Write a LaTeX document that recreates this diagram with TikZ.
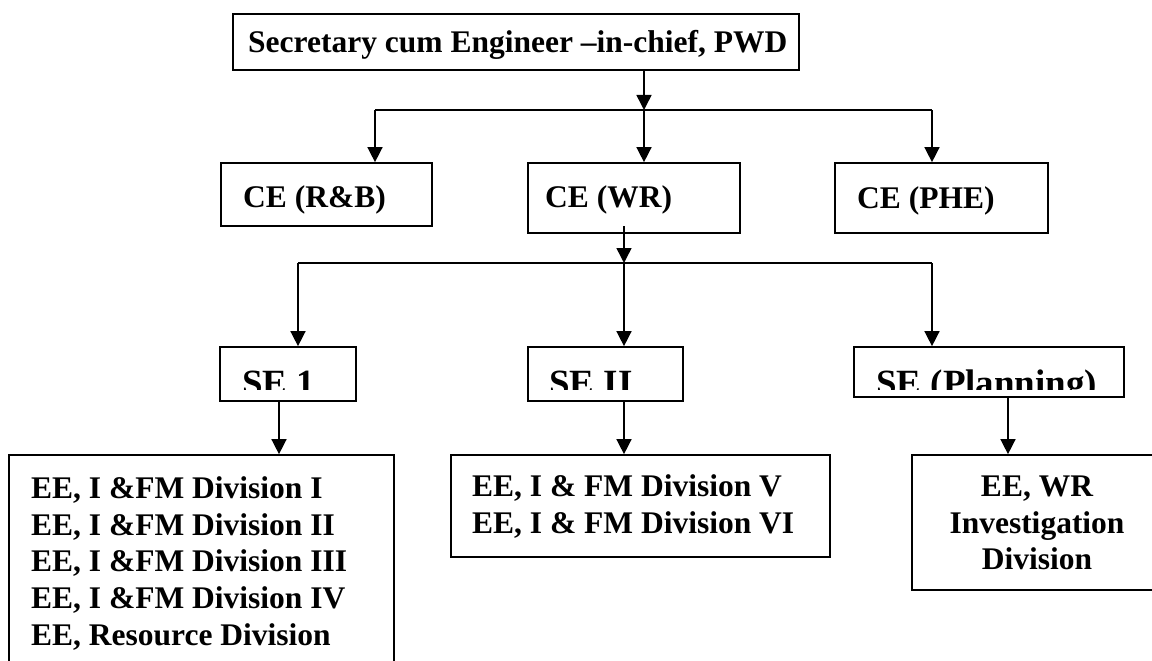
\documentclass[tikz,border=0pt]{standalone}
\usepackage{fontspec}
\setmainfont{Liberation Serif}
\usetikzlibrary{
    arrows.meta,
    positioning
}

\tikzset{
    box/.style={draw, line width=1.7pt, inner sep=0pt},
    lbl/.style={anchor=base west, inner sep=0pt,
        font=\fontsize{31.5}{36.75}\selectfont\bfseries},
    selbl/.style={lbl, font=\fontsize{37}{40}\selectfont\bfseries},
    bus/.style={line width=1.5pt},
    arr/.style={bus, -{Triangle[width=15pt,length=15pt]}}
}

\begin{document}
\begin{tikzpicture}[x=1pt, y=-1pt]
    \clip (0,0) rectangle (1152,661);

    % boxes
    \node[box, minimum width=566pt, minimum height=56pt] (sec) at (516,42) {};
    \node[box, minimum width=211pt, minimum height=63pt] (crb) at (326.5,194.5) {};
    \node[box, minimum width=212pt, minimum height=70pt] (cwr) at (634,198) {};
    \node[box, minimum width=213pt, minimum height=70pt] (cphe) at (941.5,198) {};
    \node[box, minimum width=136pt, minimum height=54pt] (se1) at (288,374) {};
    \node[box, minimum width=155pt, minimum height=54pt] (se2) at (605.5,374) {};
    \node[box, minimum width=270pt, minimum height=50pt] (sep) at (989,372) {};
    \node[box, minimum width=385pt, minimum height=260pt] (ee1) at (201.5,585) {};
    \node[box, minimum width=379pt, minimum height=102pt] (ee2) at (640.5,506) {};
    \node[box, minimum width=253pt, minimum height=135pt] (ee3) at (1038.5,522.5) {};

    % texts
    \node[lbl] (secT) at (248,53) {Secretary cum Engineer –in-chief, PWD};
    \node[lbl] (crbT) at (243,207) {CE (R\&B)};
    \node[lbl] (cwrT) at (545,207) {CE (WR)};
    \node[lbl] (cpheT) at (857,208) {CE (PHE)};
    \begin{scope}
        \clip (220,347) rectangle (1124,389);
        \node[selbl] (se1T) at (242,395) {SE 1};
        \node[selbl] (se2T) at (549,395) {SE II};
        \node[selbl] (sepT) at (876,395) {SE (Planning)};
    \end{scope}
    \node[lbl] (ee1a) at (31,498) {EE, I \&FM Division I};
    \node[lbl] (ee1b) at (31,535) {EE, I \&FM Division II};
    \node[lbl] (ee1c) at (31,571) {EE, I \&FM Division III};
    \node[lbl] (ee1d) at (31,608) {EE, I \&FM Division IV};
    \node[lbl] (ee1e) at (31,645) {EE, Resource Division};
    \node[lbl] (ee2a) at (472,496) {EE, I \& FM Division V};
    \node[lbl] (ee2b) at (472,533) {EE, I \& FM Division VI};
    \node[lbl, anchor=base] (ee3a) at (1037,496) {EE, WR};
    \node[lbl, anchor=base] (ee3b) at (1037,533) {Investigation};
    \node[lbl, anchor=base] (ee3c) at (1037,569) {Division};

    % first level
    \coordinate (b1l) at (375,110);
    \coordinate (b1m) at (644,110);
    \coordinate (b1r) at (932,110);
    \draw[arr] (sec.south -| b1m) -- (b1m);
    \draw[bus] (b1l) -- (b1r);
    \draw[arr] (b1l) -- (b1l |- crb.north);
    \draw[arr] (b1m) -- (b1m |- cwr.north);
    \draw[arr] (b1r) -- (b1r |- cphe.north);

    % second level
    \coordinate (wrout) at (624,226);
    \coordinate (b2l) at (298,263);
    \coordinate (b2m) at (624,263);
    \coordinate (b2r) at (932,263);
    \draw[arr] (wrout) -- (b2m);
    \draw[bus] (b2l) -- (b2r);
    \draw[arr] (b2l) -- (b2l |- se1.north);
    \draw[arr] (b2m) -- (b2m |- se2.north);
    \draw[arr] (b2r) -- (b2r |- sep.north);

    % divisions
    \coordinate (d1) at (279,0);
    \coordinate (d2) at (624,0);
    \coordinate (d3) at (1008,0);
    \draw[arr] (se1.south -| d1) -- (d1 |- ee1.north);
    \draw[arr] (se2.south -| d2) -- (d2 |- ee2.north);
    \draw[arr] (sep.south -| d3) -- (d3 |- ee3.north);
\end{tikzpicture}
\end{document}
